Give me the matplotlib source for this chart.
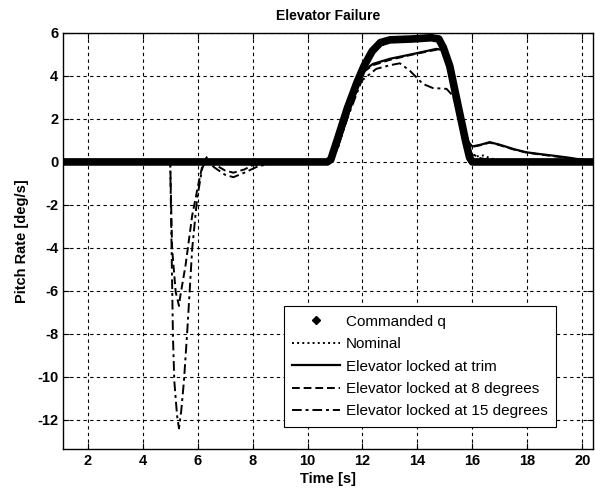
import matplotlib
matplotlib.use('Agg')
import matplotlib.pyplot as plt
from matplotlib.lines import Line2D

plt.rcParams['font.family'] = ['Liberation Sans', 'DejaVu Sans']
plt.rcParams['axes.unicode_minus'] = False

# 读图得到的数据点
t_cmd = [1.1, 10.72, 10.85, 11.1, 11.45, 11.8, 12.05, 12.35, 12.65, 13.0, 13.8, 14.5, 14.78, 14.95, 15.18, 15.5, 15.75, 15.9, 16.0, 20.4]
q_cmd = [0, 0, 0.12, 1.1, 2.5, 3.7, 4.45, 5.15, 5.55, 5.68, 5.72, 5.78, 5.72, 5.3, 4.45, 2.5, 1.0, 0.2, 0, 0]

t_nom = [1.1, 10.75, 11.1, 11.5, 12.0, 12.5, 13.0, 14.0, 14.7, 15.0, 15.3, 15.6, 15.9, 16.1, 16.4, 16.7, 17.2, 20.4]
q_nom = [0, 0, 0.6, 2.4, 4.3, 5.3, 5.6, 5.7, 5.75, 5.5, 4.0, 2.0, 0.4, 0.25, 0.3, 0.15, 0.05, 0]

t_trim = [1.1, 10.75, 11.1, 11.5, 12.0, 12.38, 13.0, 13.83, 14.69, 14.95, 15.2, 15.5, 15.8, 16.0, 16.3, 16.63, 17.0, 17.5, 17.96, 18.5, 18.9, 19.5, 20.0, 20.4]
q_trim = [0, 0, 0.7, 2.3, 4.2, 4.56, 4.8, 5.02, 5.26, 5.2, 4.2, 2.4, 1.0, 0.72, 0.8, 0.92, 0.8, 0.6, 0.45, 0.36, 0.3, 0.2, 0.1, 0.05]

t_8 = [1.1, 5.0, 5.07, 5.2, 5.32, 5.36, 5.56, 5.8, 6.04, 6.2, 6.35, 6.6, 7.0, 7.3, 7.7, 8.0, 8.5, 9.0,
       10.75, 11.1, 11.5, 12.0, 12.38, 13.0, 13.83, 14.69, 14.95, 15.2, 15.5, 15.8, 16.0, 16.3, 16.63, 17.0, 17.5, 17.96, 18.5, 19.5, 20.4]
q_8 = [0, 0, -4.05, -6.05, -6.7, -6.3, -4.8, -2.5, -0.94, 0, 0.25, -0.1, -0.4, -0.5, -0.35, -0.15, -0.05, 0,
       0, 0.7, 2.3, 4.15, 4.5, 4.75, 5.0, 5.22, 5.15, 4.2, 2.4, 1.0, 0.7, 0.78, 0.9, 0.78, 0.58, 0.44, 0.34, 0.18, 0.05]

t_15 = [1.1, 5.0, 5.05, 5.1, 5.15, 5.25, 5.32, 5.4, 5.5, 5.62, 5.8, 5.98, 6.16, 6.3, 6.6, 7.0, 7.3, 7.7, 8.2, 9.0,
        10.75, 11.1, 11.5, 11.97, 12.5, 13.0, 13.36, 13.72, 14.2, 14.56, 15.06, 15.29, 15.6, 15.9, 16.2, 16.6, 17.0, 18.0, 19.0, 20.4]
q_15 = [0, 0, -4.0, -8.1, -10.2, -11.8, -12.4, -11.6, -10.2, -7.9, -4.05, -1.7, -0.33, 0.1, -0.25, -0.6, -0.71, -0.5, -0.2, 0,
        0, 0.7, 2.2, 3.78, 4.33, 4.5, 4.59, 4.25, 3.63, 3.44, 3.4, 3.08, 1.8, 0.5, 0.2, 0.1, 0.05, 0.02, 0, 0]

xticks = [2, 4, 6, 8, 10, 12, 14, 16, 18, 20]
yticks = [-12, -10, -8, -6, -4, -2, 0, 2, 4, 6]

fig = plt.figure(figsize=(5.95, 4.96), dpi=100)
ax = fig.add_axes([0.106, 0.095, 0.891, 0.8385])

ax.plot(t_cmd, q_cmd, color='black', linewidth=5.5, solid_capstyle='round')
ax.plot(t_nom, q_nom, color='black', linestyle=':', linewidth=1.4)
ax.plot(t_trim, q_trim, color='black', linestyle='-', linewidth=1.6)
ax.plot(t_8, q_8, color='black', linestyle='--', linewidth=1.4, dashes=(4, 2))
ax.plot(t_15, q_15, color='black', linestyle='-.', linewidth=1.4, dashes=(5, 2, 1.5, 2))

ax.set_xlim(1.1, 20.4)
ax.set_ylim(-13.35, 6)
ax.set_xticks(xticks)
ax.set_yticks(yticks)
ax.grid(True, color='black', linestyle=(0, (3, 3)), linewidth=0.8)
ax.tick_params(direction='in', top=True, right=True, length=4, width=0.8, labelsize=10.5)
for lab in ax.get_xticklabels() + ax.get_yticklabels():
    lab.set_fontweight('bold')
for sp in ax.spines.values():
    sp.set_linewidth(1.0)

ax.set_title('Elevator Failure', fontsize=10, fontweight='bold', pad=9)
ax.set_xlabel('Time [s]', fontsize=10.5, fontweight='bold', labelpad=3)
ax.set_ylabel('Pitch Rate [deg/s]', fontsize=10.5, fontweight='bold', labelpad=6)

# 图例
handles = [
    Line2D([], [], color='black', marker='D', markersize=4, linestyle='none'),
    Line2D([], [], color='black', linestyle=':', linewidth=1.4),
    Line2D([], [], color='black', linestyle='-', linewidth=1.6),
    Line2D([], [], color='black', linestyle='--', linewidth=1.4, dashes=(4, 2)),
    Line2D([], [], color='black', linestyle='-.', linewidth=1.4, dashes=(5, 2, 1.5, 2)),
]
labels = ['Commanded q', 'Nominal', 'Elevator locked at trim',
          'Elevator locked at 8 degrees', 'Elevator locked at 15 degrees']
leg = ax.legend(handles, labels, loc='lower right', bbox_to_anchor=(0.93, 0.053),
                borderaxespad=0, fontsize=11, handlelength=3.1, handletextpad=0.4,
                labelspacing=0.55, fancybox=False, framealpha=1, edgecolor='black',
                borderpad=0.55)
leg.get_frame().set_linewidth(0.8)

plt.savefig('out.png', dpi=100)
